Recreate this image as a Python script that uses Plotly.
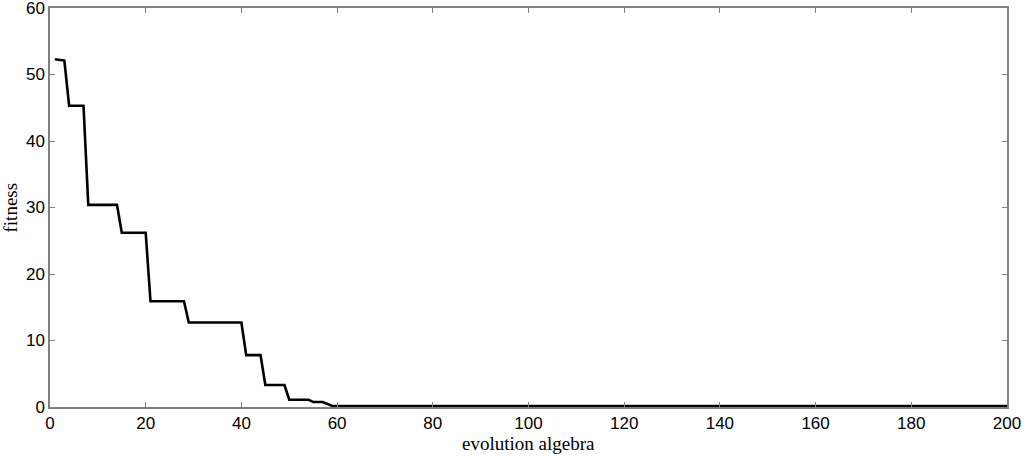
import plotly.graph_objects as go

# evolution algebra (generation) vertices and fitness values
generation = [1, 3, 4, 7, 8, 14, 15, 20, 21, 28, 29, 40, 41, 44, 45, 49, 50, 54, 55, 57, 59, 200]
fitness = [52.3, 52.1, 45.3, 45.3, 30.4, 30.4, 26.2, 26.2, 15.9, 15.9, 12.7, 12.7,
           7.8, 7.8, 3.3, 3.3, 1.1, 1.1, 0.75, 0.75, 0.15, 0.15]

x_ticks = [0, 20, 40, 60, 80, 100, 120, 140, 160, 180, 200]
y_ticks = [0, 10, 20, 30, 40, 50, 60]

fig = go.Figure()
fig.add_trace(go.Scatter(
    x=generation, y=fitness, mode="lines",
    line=dict(color="black", width=2.6),
    showlegend=False, hoverinfo="skip",
))

axis_common = dict(
    showgrid=False, zeroline=False, showline=True, linecolor="#808080", linewidth=1.5,
    mirror="ticks", ticks="inside", ticklen=5, tickcolor="#808080", tickwidth=1,
    automargin=False, ticklabeloverflow="allow",
    tickfont=dict(family="Liberation Sans, Arial, sans-serif", size=17, color="black"),
)

serif = dict(family="Liberation Serif, Times New Roman, serif", size=19, color="black")

fig.update_layout(
    width=1024, height=456,
    margin=dict(l=50, r=17, t=8, b=49),
    paper_bgcolor="white", plot_bgcolor="white",
    xaxis=dict(range=[0, 200], tickvals=x_ticks, **axis_common),
    yaxis=dict(range=[0, 60], tickvals=y_ticks, **axis_common),
    annotations=[
        dict(text="evolution algebra", xref="paper", yref="paper", x=0.5, y=0,
             yshift=-36, xanchor="center", yanchor="middle", showarrow=False, font=serif),
        dict(text="fitness", xref="paper", yref="paper", x=0, y=0.5,
             xshift=-40, xanchor="center", yanchor="middle", textangle=-90,
             showarrow=False, font=serif),
    ],
)

fig.write_html("out.html", config={"displayModeBar": False},
               post_script="document.body.style.margin='0';document.body.style.overflow='hidden';")
